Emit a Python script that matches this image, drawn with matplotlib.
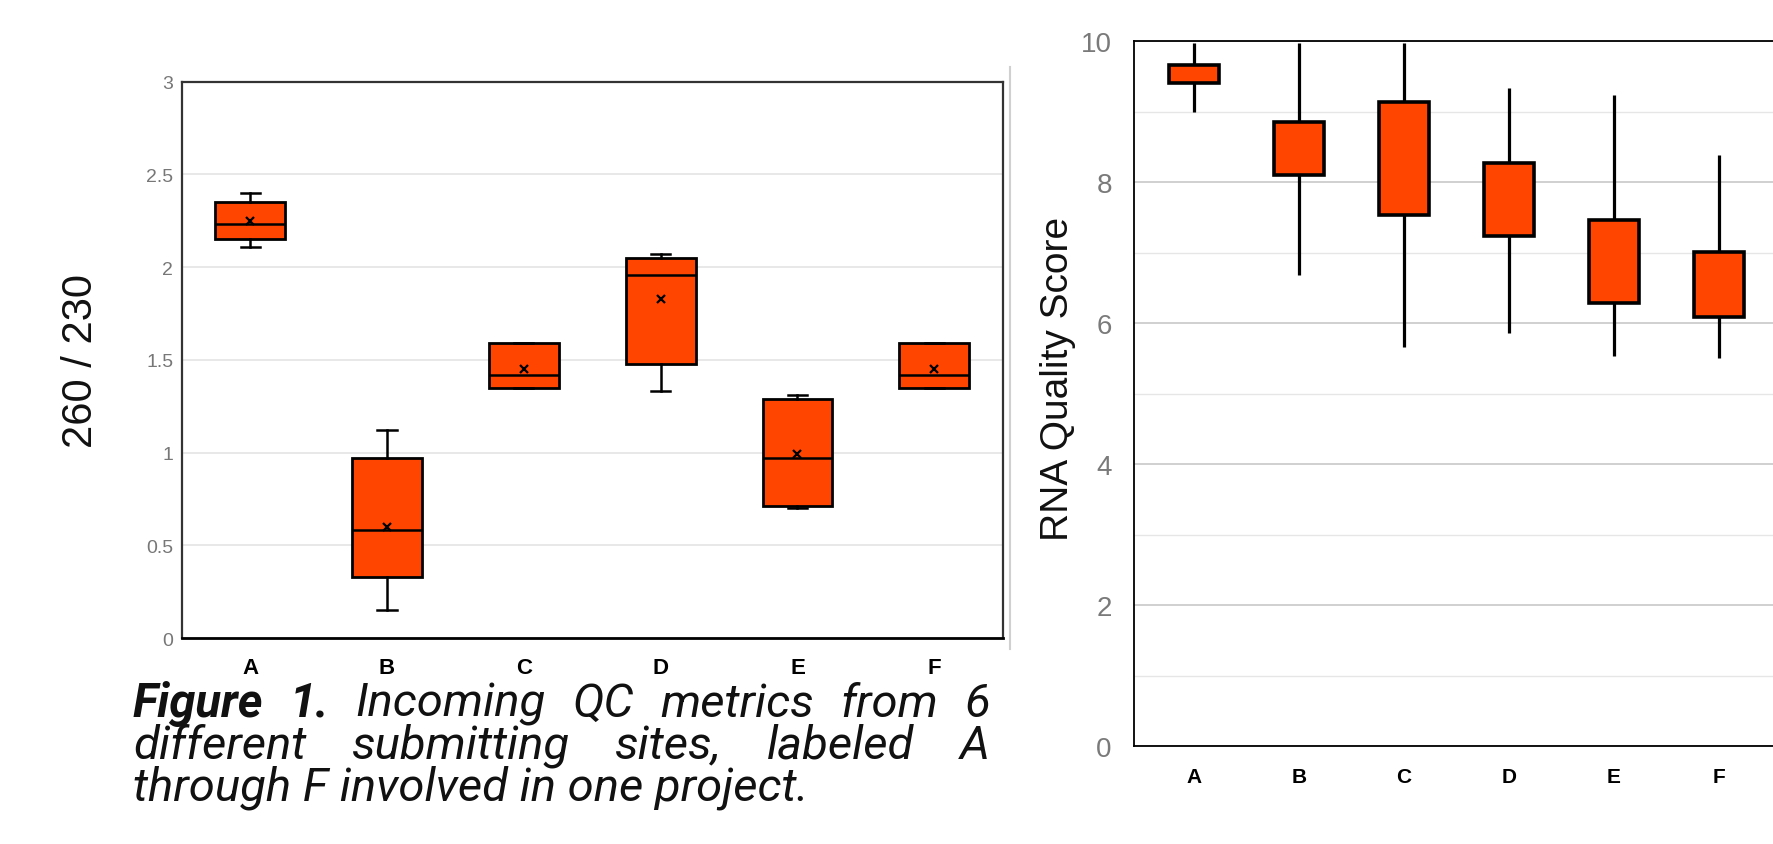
import matplotlib
matplotlib.use("Agg")
import matplotlib.pyplot as plt
from matplotlib.lines import Line2D

# ---------------------------------------------------------------------------
# Data
# ---------------------------------------------------------------------------
sites = ["A", "B", "C", "D", "E", "F"]

# left panel: 260/230 ratio per site
ratio_low = [2.11, 0.15, 1.35, 1.33, 0.70, 1.35]
ratio_q1 = [2.15, 0.33, 1.35, 1.48, 0.71, 1.35]
ratio_med = [2.23, 0.58, 1.42, 1.96, 0.97, 1.42]
ratio_q3 = [2.35, 0.97, 1.59, 2.05, 1.29, 1.59]
ratio_high = [2.40, 1.12, 1.59, 2.07, 1.31, 1.59]
ratio_mean = [2.25, 0.60, 1.45, 1.83, 0.99, 1.45]
ratio_ticks = [0, 0.5, 1, 1.5, 2, 2.5, 3]
ratio_ticklabels = ["0", "0.5", "1", "1.5", "2", "2.5", "3"]

# right panel: RNA quality score per site
rin_low = [9.00, 6.68, 5.66, 5.86, 5.53, 5.50]
rin_q1 = [9.40, 8.10, 7.53, 7.24, 6.28, 6.09]
rin_q3 = [9.66, 8.85, 9.14, 8.27, 7.46, 7.01]
rin_high = [9.97, 9.97, 9.97, 9.34, 9.24, 8.38]
rin_ticks = [0, 2, 4, 6, 8, 10]
rin_minor = [1, 3, 5, 7, 9]

caption_line1 = [("Figure", "bold"), ("1.", "bold"), ("Incoming", "normal"),
                 ("QC", "normal"), ("metrics", "normal"), ("from", "normal"),
                 ("6", "normal")]
caption_line2 = ["different", "submitting", "sites,", "labeled", "A"]
caption_line3 = "through F involved in one project."

ORANGE = "#FF4500"
W, H = 1774, 845
NARROW = ["Liberation Sans Narrow", "Liberation Sans", "DejaVu Sans"]

fig = plt.figure(figsize=(W / 100, H / 100), dpi=100)
fig.patch.set_facecolor("white")


def px_box(left, top, right, bottom):
    return [left / W, 1 - bottom / H, (right - left) / W, (bottom - top) / H]


# ── left panel ──────────────────────────────────────────────────────────────
ax1 = fig.add_axes(px_box(181.7, 82.7, 1002.7, 639))
stats = []
for i, s in enumerate(sites):
    stats.append(dict(label=s, whislo=ratio_low[i], q1=ratio_q1[i],
                      med=ratio_med[i], q3=ratio_q3[i], whishi=ratio_high[i],
                      mean=ratio_mean[i], fliers=[]))
ax1.bxp(stats, positions=range(len(sites)), widths=0.51, capwidths=0.14,
        patch_artist=True, showmeans=True,
        boxprops=dict(facecolor=ORANGE, edgecolor="black", linewidth=2.0),
        whiskerprops=dict(color="black", linewidth=1.8),
        capprops=dict(color="black", linewidth=1.8),
        medianprops=dict(color="black", linewidth=1.8),
        meanprops=dict(marker="x", markeredgecolor="black", markersize=6,
                       markeredgewidth=1.6))
ax1.set_xlim(-0.5, 5.5)
ax1.set_ylim(0, 3)
ax1.set_yticks(ratio_ticks)
ax1.set_yticklabels(ratio_ticklabels, fontsize=14, color="#777777",
                    family=NARROW)
ax1.set_xticks(range(len(sites)))
ax1.set_xticklabels(sites, fontsize=16, fontweight="bold", color="black",
                    family=NARROW)
ax1.tick_params(axis="both", length=0)
ax1.tick_params(axis="y", pad=6)
ax1.tick_params(axis="x", pad=14)
ax1.grid(axis="y", color="#e2e2e2", linewidth=1.1)
ax1.set_axisbelow(True)
for sp in ax1.spines.values():
    sp.set_color("#333333")
    sp.set_linewidth(1.6)
ax1.spines["bottom"].set_color("black")
ax1.spines["bottom"].set_linewidth(2.0)
ax1.set_ylabel("260 / 230", fontsize=30, family="Liberation Sans",
               color="#111111")
ax1.yaxis.set_label_coords((101 - 181.7) / (1002.7 - 181.7), 0.5)
# outer chart border line on the right
fig.add_artist(Line2D([1010 / W, 1010 / W], [1 - 68 / H, 1 - 650 / H],
                      color="#d0d0d0", linewidth=1.5))

# ── right panel ─────────────────────────────────────────────────────────────
ax2 = fig.add_axes(px_box(1134, 42, 1880, 747))
pos = list(range(len(sites)))
ax2.vlines(pos, rin_low, rin_high, color="black", linewidth=2.3, zorder=2)
ax2.bar(pos, [h - l for h, l in zip(rin_q3, rin_q1)], bottom=rin_q1,
        width=0.48, color=ORANGE, edgecolor="black", linewidth=2.6, zorder=3)
ax2.set_xlim(-0.57, -0.57 + 746 / 105)
ax2.set_ylim(0, 10)
ax2.set_yticks(rin_ticks)
ax2.set_yticklabels([str(t) for t in rin_ticks], fontsize=20,
                    color="#7a7a7a", family="Liberation Sans")
ax2.set_yticks(rin_minor, minor=True)
ax2.set_xticks(pos)
ax2.set_xticklabels(sites, fontsize=15, fontweight="bold", color="black",
                    family="Liberation Sans")
ax2.tick_params(axis="both", which="both", length=0)
ax2.tick_params(axis="y", pad=16)
ax2.tick_params(axis="x", pad=15)
ax2.grid(axis="y", which="major", color="#c8c8c8", linewidth=1.2)
ax2.grid(axis="y", which="minor", color="#e6e6e6", linewidth=1.0)
ax2.set_axisbelow(True)
for sp in ax2.spines.values():
    sp.set_color("black")
    sp.set_linewidth(1.3)
ax2.set_ylabel("RNA Quality Score", fontsize=28, family="Liberation Sans",
               color="#111111")
ax2.yaxis.set_label_coords((1076 - 1134) / 746, (747 - 379) / 705)

# ── caption (justified, like the source document) ──────────────────────────
CAP_FONT = dict(fontsize=34, family="Roboto", style="italic", color="#111111")
renderer = fig.canvas.get_renderer()
x_left, x_right = 133, 990


def place_justified(words, baseline):
    texts = [fig.text(0, 1 - baseline / H, w, fontweight=wt, va="baseline",
                      ha="left", **CAP_FONT) for w, wt in words]
    widths = [t.get_window_extent(renderer).width for t in texts]
    gap = (x_right - x_left - sum(widths)) / (len(words) - 1)
    x = x_left
    for t, wd in zip(texts, widths):
        t.set_x(x / W)
        x += wd + gap


place_justified(caption_line1, 717)
place_justified([(w, "normal") for w in caption_line2], 759)
fig.text(x_left / W, 1 - 801 / H, caption_line3, va="baseline", ha="left",
         **CAP_FONT)

fig.savefig("out.png", dpi=100, facecolor="white")
